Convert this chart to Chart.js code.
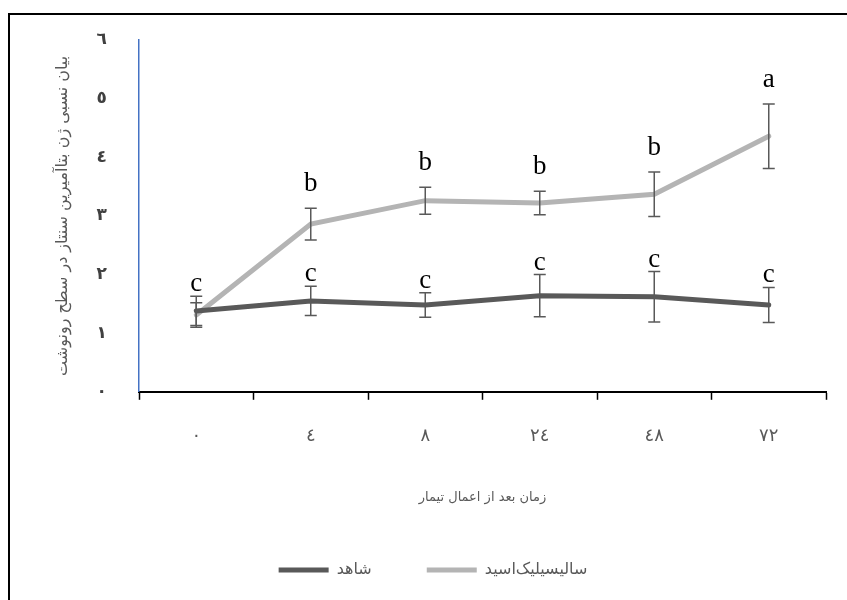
<!DOCTYPE html>
<html>
<head>
<meta charset="utf-8">
<script src="https://cdn.jsdelivr.net/npm/chart.js@4.4.1/dist/chart.umd.min.js"></script>
<style>
  html, body { margin: 0; padding: 0; background: #fff; }
  #wrap { position: relative; width: 847px; height: 600px; }
  #frame { position: absolute; left: 8px; top: 13px; right: 0; bottom: 0;
           border-top: 2px solid #000; border-left: 2px solid #000; }
  canvas { position: absolute; left: 0; top: 0; }
</style>
</head>
<body>
<div id="wrap">
  <div id="frame"></div>
  <canvas id="trendchart" width="847" height="600"></canvas>
</div>
<script>
// hours after treatment
const categories = ["٠", "٤", "٨", "٢٤", "٤٨", "٧٢"];
const yTickLabels = ["٠", "١", "٢", "٣", "٤", "٥", "٦"];

const controlValues = [1.38, 1.55, 1.48, 1.64, 1.62, 1.48];
const controlErrors = [0.25, 0.25, 0.21, 0.36, 0.43, 0.30];
const controlLetters = ["c", "c", "c", "c", "c", "c"];

const salicylicValues = [1.31, 2.86, 3.26, 3.22, 3.37, 4.36];
const salicylicErrors = [0.21, 0.27, 0.23, 0.20, 0.38, 0.55];
const salicylicLetters = ["", "b", "b", "b", "b", "a"];

const errorBarPlugin = {
  id: "errorBars",
  afterDatasetsDraw(chart) {
    const ctx = chart.ctx;
    const x = chart.scales.x;
    const y = chart.scales.y;
    chart.data.datasets.forEach((ds) => {
      ds.data.forEach((v, i) => {
        const px = x.getPixelForValue(i);
        const top = y.getPixelForValue(v + ds.errors[i]);
        const bot = y.getPixelForValue(v - ds.errors[i]);
        ctx.save();
        ctx.strokeStyle = "#595959";
        ctx.lineWidth = 1.5;
        ctx.beginPath();
        ctx.moveTo(px, top);
        ctx.lineTo(px, bot);
        ctx.moveTo(px - 6, top);
        ctx.lineTo(px + 6, top);
        ctx.moveTo(px - 6, bot);
        ctx.lineTo(px + 6, bot);
        ctx.stroke();
        if (ds.letters[i]) {
          ctx.fillStyle = "#000";
          ctx.font = "27px 'Liberation Serif'";
          ctx.textAlign = "center";
          ctx.textBaseline = "alphabetic";
          ctx.fillText(ds.letters[i], px, top - ds.letterGap);
        }
        ctx.restore();
      });
    });
  },
};

const ctx = document.getElementById("trendchart").getContext("2d");

new Chart(ctx, {
  type: "line",
  data: {
    labels: categories,
    datasets: [
      {
        label: "شاهد",
        data: controlValues,
        errors: controlErrors,
        letters: controlLetters,
        letterGap: 5,
        borderColor: "#595959",
        backgroundColor: "#595959",
        borderWidth: 5,
        borderCapStyle: "round",
        pointRadius: 0,
        tension: 0,
      },
      {
        label: "سالیسیلیک‌اسید",
        data: salicylicValues,
        errors: salicylicErrors,
        letters: salicylicLetters,
        letterGap: 17,
        borderColor: "#b4b4b4",
        backgroundColor: "#b4b4b4",
        borderWidth: 5,
        borderCapStyle: "round",
        pointRadius: 0,
        tension: 0,
      },
    ],
  },
  options: {
    responsive: false,
    animation: false,
    layout: {
      padding: { left: 40, right: 21, top: 40, bottom: 12 },
    },
    scales: {
      x: {
        offset: true,
        grid: {
          offset: true,
          drawOnChartArea: false,
          drawTicks: true,
          tickLength: 8,
          tickColor: "#000",
          tickWidth: 1.5,
        },
        border: { color: "#000", width: 2 },
        ticks: {
          color: "#595959",
          font: { family: "DejaVu Sans", size: 18 },
          padding: 26,
        },
        title: {
          display: true,
          text: "زمان بعد از اعمال تیمار",
          color: "#595959",
          font: { family: "DejaVu Sans", size: 13 },
          padding: { top: 16, bottom: 2 },
        },
      },
      y: {
        min: 0,
        max: 6,
        grid: { display: false },
        border: { color: "#4472c4", width: 1.5 },
        ticks: {
          stepSize: 1,
          color: "#404040",
          font: { family: "DejaVu Sans", size: 17, weight: "bold" },
          padding: 24,
          callback: (value) => yTickLabels[value],
        },
        title: {
          display: true,
          text: "بیان نسبی ژن بتاآمیرین سنتاز در سطح رونوشت",
          color: "#595959",
          font: { family: "DejaVu Sans", size: 16 },
          padding: { top: 13, bottom: 0 },
        },
        afterFit: (scale) => {
          scale.width = 99;
        },
      },
    },
    plugins: {
      legend: {
        position: "bottom",
        labels: {
          usePointStyle: true,
          pointStyle: "line",
          pointStyleWidth: 50,
          color: "#595959",
          font: { family: "DejaVu Sans", size: 16 },
          padding: 55,
        },
      },
      tooltip: { enabled: false },
    },
  },
  plugins: [errorBarPlugin],
});
</script>
</body>
</html>
